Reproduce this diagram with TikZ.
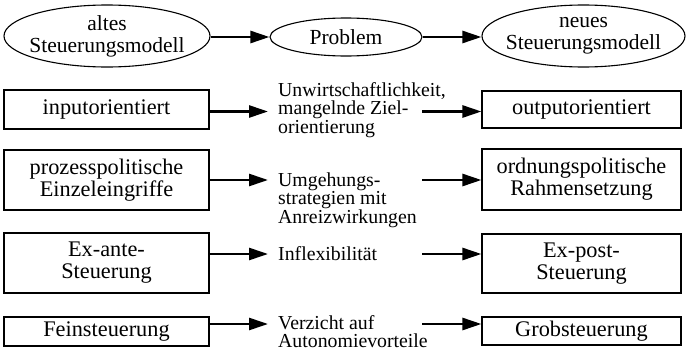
\documentclass[tikz,border=0pt]{standalone}
\usepackage{fontspec}
\setmainfont{Liberation Serif}
\usetikzlibrary{arrows.meta,shapes.geometric}
\begin{document}
\begin{tikzpicture}[x=1pt,y=-1pt,
  ell/.style={draw,ellipse,line width=1.1pt,inner sep=0pt},
  lbl/.style={align=center,inner sep=0pt,font=\fontsize{21.5}{22}\selectfont},
  boxn/.style={draw,rectangle,line width=1.1pt,inner sep=0pt,align=center,font=\fontsize{22.3}{22}\selectfont},
  lbox/.style={boxn,minimum width=205pt},
  rbox/.style={boxn,minimum width=199pt},
  mid/.style={align=left,anchor=base west,inner xsep=10pt,inner ysep=0pt,font=\fontsize{19.8}{18.7}\selectfont},
  arr/.style={line width=2.6pt,-{Triangle[length=19pt,width=12pt]}}
]
\useasboundingbox (0,0) rectangle (686,356);
% top row
\node[ell,minimum width=206pt,minimum height=62pt] (e1) at (107,36) {};
\node[lbl] (e1t) at (e1) {altes\\Steuerungsmodell};
\node[ell,minimum width=152pt,minimum height=38pt] (e2) at (346,37) {};
\node[lbl] (e2t) at (e2) {Problem};
\node[ell,minimum width=203pt,minimum height=62pt] (e3) at (583.5,36) {};
\node[lbl] (e3t) at (e3) {neues\\Steuerungsmodell};
\draw[arr] (e1.east |- e2) -- (e2.west);
\draw[arr] (e2.east) -- (e3.west |- e2);
% left boxes
\node[lbox,minimum height=39pt] (L1) at (106.5,109.5) {inputorientiert};
\node[lbox,minimum height=60pt] (L2) at (106.5,180) {prozesspolitische\\Einzeleingriffe};
\node[lbox,minimum height=60pt] (L3) at (106.5,263) {Ex-ante-\\Steuerung};
\node[lbox,minimum height=29pt] (L4) at (106.5,331.5) {Feinsteuerung};
% right boxes
\node[rbox,minimum height=37pt] (R1) at (581.5,109.5) {outputorientiert};
\node[rbox,minimum height=61pt] (R2) at (581.5,179.5) {ordnungspolitische\\Rahmensetzung};
\node[rbox,minimum height=59pt] (R3) at (581.5,263.5) {Ex-post-\\Steuerung};
\node[rbox,minimum height=28pt] (R4) at (581.5,331) {Grobsteuerung};
% middle texts (base anchor = baseline of last line)
\node[mid] (M1) at (268,133.4) {Unwirtschaftlichkeit,\\mangelnde Ziel-\\orientierung};
\node[mid] (M2) at (268,223.4) {Umgehungs-\\strategien mit\\Anreizwirkungen};
\node[mid] (M3) at (268,260) {Inflexibilität};
\node[mid] (M4) at (268,347.7) {Verzicht auf\\Autonomievorteile};
% arrow levels
\coordinate (s1) at (422,111.5);
\coordinate (s2) at (422,180);
\coordinate (s3) at (422,254);
\coordinate (s4) at (422,324);
\draw[arr] (L1.east |- s1) -- (M1.west |- s1);
\draw[arr] (L2.east |- s2) -- (M2.west |- s2);
\draw[arr] (L3.east |- s3) -- (M3.west |- s3);
\draw[arr] (L4.east |- s4) -- (M4.west |- s4);
\draw[arr] (s1) -- (R1.west |- s1);
\draw[arr] (s2) -- (R2.west |- s2);
\draw[arr] (s3) -- (R3.west |- s3);
\draw[arr] (s4) -- (R4.west |- s4);
\end{tikzpicture}
\end{document}
